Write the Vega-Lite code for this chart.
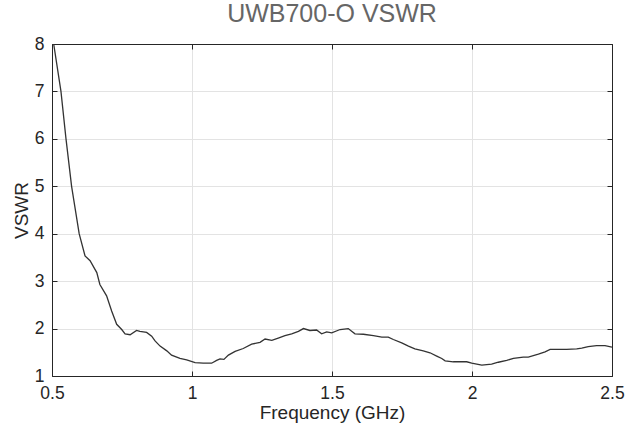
{
  "$schema": "https://vega.github.io/schema/vega-lite/v6.json",
  "width": 560,
  "height": 332,
  "autosize": {"type": "none"},
  "padding": {"left": 52, "top": 44, "right": 16, "bottom": 57},
  "background": "white",
  "title": {"text": "UWB700-O VSWR", "font": "Liberation Sans", "fontSize": 25, "fontWeight": "normal", "color": "#666666", "offset": 8, "anchor": "middle"},
  "config": {
    "view": {"stroke": "#262626", "strokeWidth": 1},
    "font": "Liberation Sans"
  },
  "data": {"values": [
    {"f": 0.506, "v": 8.0}, {"f": 0.532, "v": 7.0}, {"f": 0.55, "v": 6.0}, {"f": 0.570, "v": 5.0},
    {"f": 0.597, "v": 4.0}, {"f": 0.618, "v": 3.53}, {"f": 0.636, "v": 3.43}, {"f": 0.66, "v": 3.18},
    {"f": 0.671, "v": 2.93}, {"f": 0.695, "v": 2.69}, {"f": 0.713, "v": 2.37}, {"f": 0.731, "v": 2.09},
    {"f": 0.749, "v": 1.98}, {"f": 0.761, "v": 1.89}, {"f": 0.779, "v": 1.87}, {"f": 0.802, "v": 1.96},
    {"f": 0.814, "v": 1.94}, {"f": 0.838, "v": 1.92}, {"f": 0.856, "v": 1.84}, {"f": 0.868, "v": 1.74},
    {"f": 0.886, "v": 1.63}, {"f": 0.91, "v": 1.53}, {"f": 0.927, "v": 1.44}, {"f": 0.957, "v": 1.37},
    {"f": 0.981, "v": 1.34}, {"f": 1.011, "v": 1.28}, {"f": 1.04, "v": 1.27}, {"f": 1.07, "v": 1.27},
    {"f": 1.088, "v": 1.33}, {"f": 1.1, "v": 1.36}, {"f": 1.114, "v": 1.35}, {"f": 1.13, "v": 1.44},
    {"f": 1.154, "v": 1.52}, {"f": 1.183, "v": 1.58}, {"f": 1.213, "v": 1.67}, {"f": 1.243, "v": 1.71},
    {"f": 1.261, "v": 1.78}, {"f": 1.285, "v": 1.75}, {"f": 1.308, "v": 1.80}, {"f": 1.332, "v": 1.85},
    {"f": 1.356, "v": 1.89}, {"f": 1.380, "v": 1.94}, {"f": 1.398, "v": 2.00}, {"f": 1.421, "v": 1.96},
    {"f": 1.445, "v": 1.97}, {"f": 1.463, "v": 1.89}, {"f": 1.481, "v": 1.93}, {"f": 1.499, "v": 1.91},
    {"f": 1.529, "v": 1.98}, {"f": 1.558, "v": 2.00}, {"f": 1.582, "v": 1.89}, {"f": 1.612, "v": 1.88},
    {"f": 1.648, "v": 1.85}, {"f": 1.678, "v": 1.82}, {"f": 1.701, "v": 1.82}, {"f": 1.719, "v": 1.77},
    {"f": 1.749, "v": 1.70}, {"f": 1.773, "v": 1.63}, {"f": 1.796, "v": 1.57}, {"f": 1.826, "v": 1.53},
    {"f": 1.850, "v": 1.49}, {"f": 1.874, "v": 1.42}, {"f": 1.892, "v": 1.37}, {"f": 1.904, "v": 1.32},
    {"f": 1.933, "v": 1.30}, {"f": 1.957, "v": 1.30}, {"f": 1.981, "v": 1.30}, {"f": 1.999, "v": 1.27},
    {"f": 2.017, "v": 1.25}, {"f": 2.035, "v": 1.23}, {"f": 2.070, "v": 1.25}, {"f": 2.094, "v": 1.29},
    {"f": 2.124, "v": 1.33}, {"f": 2.148, "v": 1.37}, {"f": 2.183, "v": 1.40}, {"f": 2.201, "v": 1.40},
    {"f": 2.237, "v": 1.46}, {"f": 2.261, "v": 1.51}, {"f": 2.279, "v": 1.56}, {"f": 2.302, "v": 1.56},
    {"f": 2.338, "v": 1.56}, {"f": 2.374, "v": 1.57}, {"f": 2.392, "v": 1.59}, {"f": 2.415, "v": 1.62},
    {"f": 2.445, "v": 1.64}, {"f": 2.475, "v": 1.64}, {"f": 2.5, "v": 1.61}
  ]},
  "layer": [
    {
      "mark": {"type": "line", "color": "#333333", "strokeWidth": 1.3, "clip": true},
      "encoding": {
        "x": {"field": "f", "type": "quantitative", "scale": {"domain": [0.5, 2.5], "nice": false, "zero": false},
          "axis": {"orient": "bottom", "values": [0.5, 1, 1.5, 2, 2.5], "title": "Frequency (GHz)", "titleFontSize": 19, "titleFontWeight": "normal", "titleColor": "#262626", "titlePadding": 2,
            "labelFontSize": 17.5, "labelColor": "#262626", "labelPadding": 13, "tickSize": -5, "tickColor": "#262626", "domainColor": "#262626", "gridColor": "#e3e3e3", "grid": true, "labelFlush": false, "labelExpr": "datum.value == 1 || datum.value == 2 ? format(datum.value, 'd') : format(datum.value, '.1f')"}},
        "y": {"field": "v", "type": "quantitative", "scale": {"domain": [1, 8], "nice": false, "zero": false},
          "axis": {"orient": "left", "values": [1, 2, 3, 4, 5, 6, 7, 8], "title": "VSWR", "titleFontSize": 19, "titleFontWeight": "normal", "titleColor": "#262626", "titlePadding": 3,
            "labelFontSize": 17.5, "labelColor": "#262626", "labelPadding": 13, "tickSize": -5, "tickColor": "#262626", "domainColor": "#262626", "gridColor": "#e3e3e3", "grid": true, "labelFlush": false}}
      }
    },
    {
      "mark": {"type": "point", "opacity": 0},
      "encoding": {
        "x": {"field": "f", "type": "quantitative", "scale": {"domain": [0.5, 2.5], "nice": false, "zero": false},
          "axis": {"orient": "top", "values": [0.5, 1, 1.5, 2, 2.5], "title": null, "labels": false, "tickSize": -5, "tickColor": "#262626", "domainColor": "#262626", "grid": false}},
        "y": {"field": "v", "type": "quantitative", "scale": {"domain": [1, 8], "nice": false, "zero": false},
          "axis": {"orient": "right", "values": [1, 2, 3, 4, 5, 6, 7, 8], "title": null, "labels": false, "tickSize": -5, "tickColor": "#262626", "domainColor": "#262626", "grid": false}}
      }
    }
  ],
  "resolve": {"scale": {"x": "independent", "y": "independent"}}
}
